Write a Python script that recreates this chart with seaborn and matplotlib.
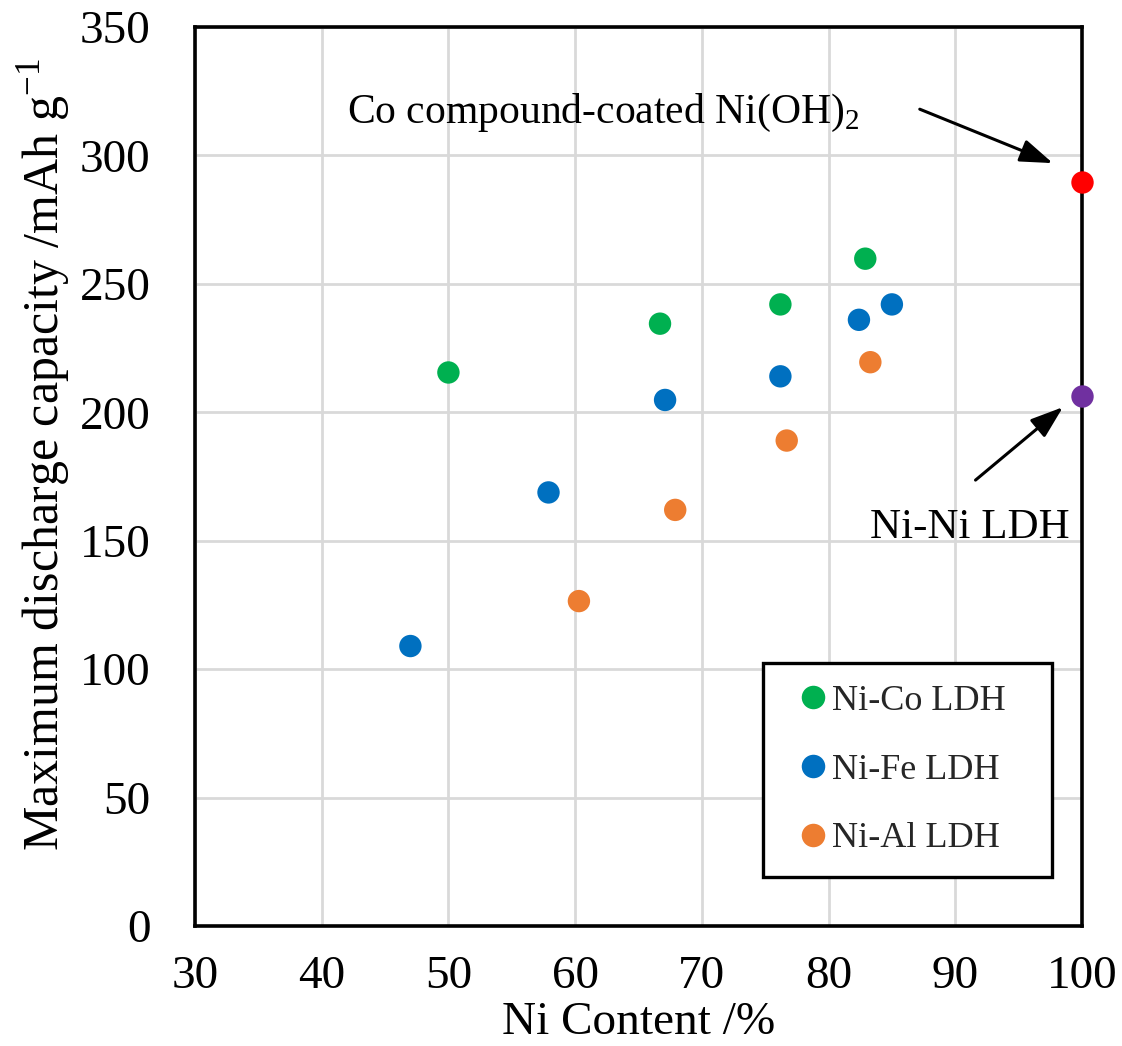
import matplotlib
matplotlib.use("Agg")
import matplotlib.pyplot as plt
import seaborn as sns
import pandas as pd

# Data
nico_x = [50.0, 66.7, 76.2, 82.9]
nico_y = [215.5, 234.5, 242.0, 259.8]
nife_x = [47.0, 57.9, 67.1, 76.2, 82.4, 85.0]
nife_y = [109.0, 168.8, 204.8, 214.0, 236.0, 242.0]
nial_x = [60.3, 67.9, 76.7, 83.3]
nial_y = [126.5, 162.0, 189.0, 219.5]
coated_x = [100.0]
coated_y = [289.5]
nini_x = [100.0]
nini_y = [206.5]

series_names = ["Ni-Co LDH", "Ni-Fe LDH", "Ni-Al LDH"]
palette = {"Ni-Co LDH": "#00B050", "Ni-Fe LDH": "#0070C0", "Ni-Al LDH": "#ED7D31"}

df = pd.DataFrame({
    "x": nico_x + nife_x + nial_x,
    "y": nico_y + nife_y + nial_y,
    "series": [series_names[0]] * len(nico_x) + [series_names[1]] * len(nife_x) + [series_names[2]] * len(nial_x),
})

sns.set_theme(style="white")
plt.rcParams["font.family"] = ["Liberation Serif", "DejaVu Serif"]
plt.rcParams["mathtext.fontset"] = "custom"
plt.rcParams["mathtext.rm"] = "Liberation Serif"

fig = plt.figure(figsize=(11.22, 10.46), dpi=100)
ax = fig.add_axes([0.1738, 0.1147, 0.7905, 0.8595])

ms = 260
sns.scatterplot(data=df, x="x", y="y", hue="series", palette=palette, hue_order=series_names,
                s=ms, linewidth=0, ax=ax, zorder=5, clip_on=False)
sns.scatterplot(x=coated_x, y=coated_y, color="#FF0000", s=ms, linewidth=0, ax=ax, zorder=6, clip_on=False)
sns.scatterplot(x=nini_x, y=nini_y, color="#7030A0", s=ms, linewidth=0, ax=ax, zorder=6, clip_on=False)

ax.set_xlim(30, 100)
ax.set_ylim(0, 350)
ax.set_xticks(range(30, 101, 10))
ax.set_yticks(range(0, 351, 50))
ax.grid(True, color="#D9D9D9", linewidth=2.0)
ax.set_axisbelow(True)
for sp in ax.spines.values():
    sp.set_color("black")
    sp.set_linewidth(2.6)
    sp.set_zorder(4)
ax.tick_params(axis="both", length=0, labelsize=34, colors="black")
ax.tick_params(axis="y", pad=32)
ax.tick_params(axis="x", pad=21)

ax.set_xlabel("Ni Content /%", fontsize=34, color="black")
ax.xaxis.set_label_coords(0.5, -0.0845)
ax.set_ylabel("Maximum discharge capacity /mAh g$^{\\mathregular{-1}}$", fontsize=36, color="black")
ax.yaxis.set_label_coords(-0.137, 0.524)

arrow_style = dict(arrowstyle="-|>,head_length=1.0,head_width=0.35", color="black", lw=2.2,
                   shrinkA=0, shrinkB=0, mutation_scale=20)
ax.text(42.0, 312.6, "Co compound-coated Ni(OH)$_{\\mathregular{2}}$", fontsize=30,
        ha="left", va="baseline", color="black")
ax.annotate("", xy=(97.7, 297.0), xytext=(87.2, 318.0), arrowprops=arrow_style)
ax.annotate("", xy=(98.5, 202.0), xytext=(91.6, 173.6), arrowprops=arrow_style)
ax.text(99.06, 151.0, "Ni-Ni LDH", fontsize=31, ha="right", va="baseline", color="black")

handles, labels = ax.get_legend_handles_labels()
leg = ax.legend(handles[:3], labels[:3], loc="upper left", bbox_to_anchor=(0.640, 0.0623, 0.326, 0.2302),
                mode="expand", fontsize=26, frameon=True, fancybox=False, edgecolor="black", framealpha=1,
                handletextpad=-0.28, handlelength=1.6, labelspacing=0.98, borderpad=0.6,
                borderaxespad=0.0, markerscale=1.05)
leg.get_frame().set_linewidth(2.4)
leg.set_zorder(10)

fig.savefig("out.png", dpi=100, facecolor="white")
